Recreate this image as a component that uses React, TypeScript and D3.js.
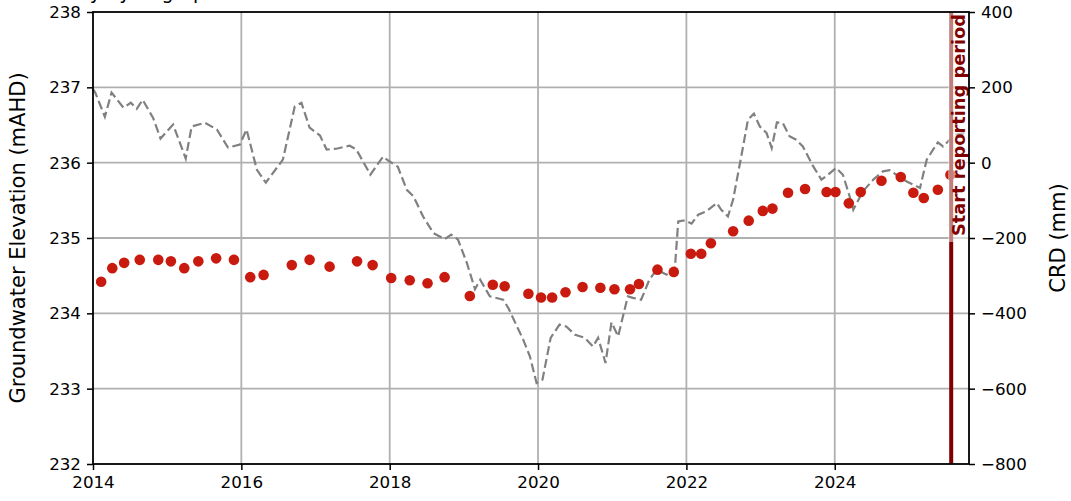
import { useEffect, useRef } from 'react';
import * as d3 from 'd3';

// groundwater elevation readings (decimal year, mAHD)
const gwYears = [
  2014.11, 2014.26, 2014.42, 2014.63, 2014.88, 2015.05, 2015.23, 2015.42, 2015.66, 2015.9,
  2016.12, 2016.3, 2016.68, 2016.92, 2017.19, 2017.56, 2017.77, 2018.02, 2018.27, 2018.51,
  2018.74, 2019.08, 2019.39, 2019.55, 2019.87, 2020.04, 2020.19, 2020.37, 2020.6, 2020.84,
  2021.03, 2021.24, 2021.36, 2021.61, 2021.83, 2022.06, 2022.2, 2022.33, 2022.63, 2022.84,
  2023.03, 2023.16, 2023.37, 2023.6, 2023.89, 2024.01, 2024.19, 2024.35, 2024.63, 2024.89,
  2025.06, 2025.2, 2025.39, 2025.56,
];
const gwLevels = [
  234.42, 234.6, 234.67, 234.71, 234.71, 234.69, 234.6, 234.69, 234.73, 234.71,
  234.48, 234.51, 234.64, 234.71, 234.62, 234.69, 234.64, 234.47, 234.44, 234.4,
  234.48, 234.23, 234.38, 234.36, 234.26, 234.21, 234.21, 234.28, 234.35, 234.34,
  234.32, 234.32, 234.39, 234.58, 234.55, 234.79, 234.79, 234.93, 235.09, 235.23,
  235.36, 235.39, 235.6, 235.65, 235.61, 235.61, 235.46, 235.61, 235.76, 235.81,
  235.6, 235.53, 235.64, 235.84,
];

// cumulative rainfall departure (decimal year, mm)
const crdYears = [
  2014.0, 2014.03, 2014.16, 2014.25, 2014.41, 2014.51, 2014.59, 2014.67, 2014.81, 2014.91,
  2015.08, 2015.25, 2015.33, 2015.51, 2015.67, 2015.82, 2015.98, 2016.07, 2016.21, 2016.33,
  2016.56, 2016.72, 2016.81, 2016.92, 2017.06, 2017.15, 2017.28, 2017.46, 2017.55, 2017.74,
  2017.91, 2018.0, 2018.11, 2018.23, 2018.32, 2018.45, 2018.59, 2018.74, 2018.83, 2018.92,
  2019.04, 2019.15, 2019.22, 2019.35, 2019.53, 2019.6, 2019.8, 2019.89, 2019.98, 2020.06,
  2020.17, 2020.29, 2020.38, 2020.5, 2020.63, 2020.74, 2020.81, 2020.91, 2020.99, 2021.08,
  2021.21, 2021.28, 2021.39, 2021.5, 2021.6, 2021.73, 2021.84, 2021.89, 2021.98, 2022.07,
  2022.16, 2022.27, 2022.41, 2022.47, 2022.56, 2022.63, 2022.74, 2022.83, 2022.91, 2022.99,
  2023.08, 2023.15, 2023.22, 2023.3, 2023.39, 2023.48, 2023.57, 2023.71, 2023.82, 2023.91,
  2024.02, 2024.11, 2024.2, 2024.25, 2024.38, 2024.52, 2024.65, 2024.74, 2024.83, 2024.97,
  2025.15, 2025.24, 2025.39, 2025.46, 2025.53, 2025.62, 2025.77,
];
const crdValues = [
  195, 186, 122, 186, 146, 159, 143, 167, 119, 64,
  101, 11, 96, 106, 88, 40, 48, 88, -19, -53,
  8, 149, 159, 93, 72, 35, 37, 45, 35, -32,
  16, 3, -11, -72, -89, -143, -187, -203, -191, -204,
  -266, -336, -311, -355, -364, -386, -470, -514, -585, -576,
  -465, -430, -435, -457, -465, -488, -465, -532, -424, -461,
  -355, -359, -364, -311, -284, -297, -293, -156, -153, -162,
  -138, -129, -107, -125, -143, -98, 17, 114, 130, 96,
  79, 39, 107, 105, 70, 61, 43, -10, -45, -32,
  -14, -32, -89, -125, -76, -45, -23, -20, -32, -50,
  -67, 8, 54, 43, 57, 74, 79,
];

const xTicks = [2014, 2016, 2018, 2020, 2022, 2024];
const leftTicks = [232, 233, 234, 235, 236, 237, 238];
const rightTicks = [-800, -600, -400, -200, 0, 200, 400];
const reportStart = 2025.57;

const App: React.FC = () => {
  const svgRef = useRef<SVGSVGElement | null>(null);

  useEffect(() => {
    if (svgRef.current === null) return;
    const W = 1071;
    const H = 501;
    const m = { top: 12, right: 102, bottom: 37, left: 93 };
    const font = 'DejaVu Sans, sans-serif';

    const svg = d3.select(svgRef.current).attr('width', W).attr('height', H);
    svg.selectAll('*').remove();
    svg.append('rect').attr('width', W).attr('height', H).attr('fill', '#fff');

    const x = d3.scaleLinear().domain([2014, 2025.81]).range([m.left, W - m.right]);
    const yL = d3.scaleLinear().domain([232, 238]).range([H - m.bottom, m.top]);
    const yR = d3.scaleLinear().domain([-800, 400]).range([H - m.bottom, m.top]);

    // title, sits above the page edge so only descenders show
    svg
      .append('text')
      .attr('x', 53)
      .attr('y', -1)
      .attr('font-family', font)
      .attr('font-size', 19)
      .text('Daily hydrograph');

    // grid
    const grid = svg.append('g');
    grid
      .selectAll('.vg')
      .data(xTicks.slice(1))
      .enter()
      .append('line')
      .attr('x1', (d) => x(d))
      .attr('x2', (d) => x(d))
      .attr('y1', m.top)
      .attr('y2', H - m.bottom)
      .attr('stroke', '#b0b0b0')
      .attr('stroke-width', 1.8);
    grid
      .selectAll('.hg')
      .data(leftTicks.slice(1, -1))
      .enter()
      .append('line')
      .attr('x1', m.left)
      .attr('x2', W - m.right)
      .attr('y1', (d) => yL(d))
      .attr('y2', (d) => yL(d))
      .attr('stroke', '#b0b0b0')
      .attr('stroke-width', 1.8);

    // CRD dashed line
    const crd = crdYears.map((d, i) => [d, crdValues[i]] as [number, number]);
    svg
      .append('path')
      .datum(crd)
      .attr('fill', 'none')
      .attr('stroke', '#808080')
      .attr('stroke-width', 2.2)
      .attr('stroke-dasharray', '9,4')
      .attr(
        'd',
        d3
          .line<[number, number]>()
          .x((d) => x(d[0]))
          .y((d) => yR(d[1]))
      );

    // groundwater dots
    svg
      .selectAll('.gw')
      .data(gwYears)
      .enter()
      .append('circle')
      .attr('cx', (d) => x(d))
      .attr('cy', (d, i) => yL(gwLevels[i]))
      .attr('r', 5.3)
      .attr('fill', '#c81a0e');

    // reporting period marker
    svg
      .append('line')
      .attr('x1', x(reportStart))
      .attr('x2', x(reportStart))
      .attr('y1', m.top)
      .attr('y2', H - m.bottom)
      .attr('stroke', '#800000')
      .attr('stroke-width', 4);
    svg
      .append('rect')
      .attr('x', x(reportStart) - 3)
      .attr('y', m.top - 2)
      .attr('width', 21)
      .attr('height', 232)
      .attr('fill', '#fff')
      .attr('opacity', 0.5);
    svg
      .append('text')
      .attr('transform', `translate(${x(reportStart) + 14},${m.top + 2}) rotate(-90)`)
      .attr('text-anchor', 'end')
      .attr('font-family', font)
      .attr('font-weight', 'bold')
      .attr('font-size', 17.8)
      .attr('fill', '#800000')
      .text('Start reporting period');

    // axes
    const styleAxis = (g: d3.Selection<SVGGElement, unknown, null, undefined>) => {
      g.selectAll('path').remove();
      g.selectAll('line').attr('stroke', '#000').attr('stroke-width', 1.5);
      g.selectAll('text').attr('font-family', font).attr('font-size', 16.7).attr('fill', '#000');
    };
    svg
      .append('g')
      .attr('transform', `translate(0,${H - m.bottom})`)
      .call(d3.axisBottom(x).tickValues(xTicks).tickFormat(d3.format('d')).tickSize(6).tickPadding(6))
      .call(styleAxis);
    svg
      .append('g')
      .attr('transform', `translate(${m.left},0)`)
      .call(d3.axisLeft(yL).tickValues(leftTicks).tickFormat(d3.format('d')).tickSize(6).tickPadding(6))
      .call(styleAxis);
    svg
      .append('g')
      .attr('transform', `translate(${W - m.right},0)`)
      .call(d3.axisRight(yR).tickValues(rightTicks).tickFormat(d3.format('d')).tickSize(6).tickPadding(6))
      .call(styleAxis);

    // frame
    svg
      .append('rect')
      .attr('x', m.left)
      .attr('y', m.top)
      .attr('width', W - m.left - m.right)
      .attr('height', H - m.top - m.bottom)
      .attr('fill', 'none')
      .attr('stroke', '#000')
      .attr('stroke-width', 1.8);

    // axis labels
    svg
      .append('text')
      .attr('transform', `translate(25,${(m.top + H - m.bottom) / 2}) rotate(-90)`)
      .attr('text-anchor', 'middle')
      .attr('font-family', font)
      .attr('font-size', 21)
      .text('Groundwater Elevation (mAHD)');
    svg
      .append('text')
      .attr('transform', `translate(1065,${(m.top + H - m.bottom) / 2}) rotate(-90)`)
      .attr('text-anchor', 'middle')
      .attr('font-family', font)
      .attr('font-size', 21)
      .text('CRD (mm)');
  }, []);

  return (
    <svg ref={svgRef} style={{ position: 'absolute', left: 0, top: 0, display: 'block' }}></svg>
  );
};

export default App;
